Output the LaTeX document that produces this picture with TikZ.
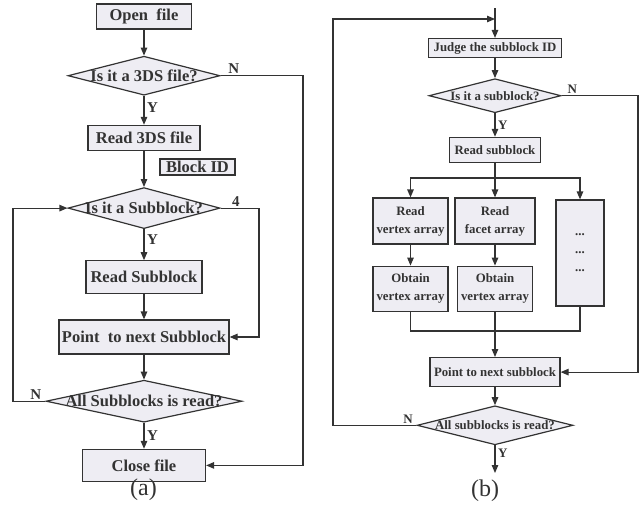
\documentclass[tikz,border=0pt]{standalone}
\usepackage{fontspec}
\setmainfont{Liberation Serif}
\usetikzlibrary{shapes.geometric,arrows.meta,positioning,calc}
\definecolor{boxfill}{HTML}{EEEDF3}
\definecolor{edge}{HTML}{333333}

\begin{document}
\begin{tikzpicture}[
    x=1pt, y=-1pt,
    color=edge, line width=1.2pt,
    box/.style={rectangle, draw, fill=boxfill, inner sep=0pt, align=center, font=\bfseries\fontsize{16.5}{18}\selectfont},
    smallbox/.style={box, font=\bfseries\fontsize{12.8}{18}\selectfont},
    decision/.style={diamond, draw, fill=boxfill, inner sep=0pt, font=\bfseries\fontsize{16.5}{18}\selectfont},
    smalldecision/.style={decision, font=\bfseries\fontsize{12.8}{18}\selectfont},
    tag/.style={font=\bfseries\fontsize{15}{16}\selectfont, inner sep=1.5pt},
    smalltag/.style={font=\bfseries\fontsize{13}{14}\selectfont, inner sep=1.5pt},
    caption/.style={font=\fontsize{24}{26}\selectfont},
    arrow/.style={->, >={Triangle[length=8pt,width=6.5pt]}}
]
\useasboundingbox (0,0) rectangle (640,506);

% (a) reading the 3DS file
\node[box, minimum width=95pt, minimum height=25pt] (open) at (144,16.5) {Open\ \ file};
\node[decision, minimum width=152pt, minimum height=39pt, below=26pt of open] (is3ds) {\makebox[0pt]{Is it a 3DS file?}};
\node[box, minimum width=112pt, minimum height=25pt, below=29pt of is3ds] (read3ds) {Read 3DS file};
\node[decision, minimum width=152pt, minimum height=41pt, below=36pt of read3ds] (issub) {\makebox[0pt]{Is it a Subblock?}};
\node[box, minimum width=116pt, minimum height=33pt, below=31pt of issub] (readsub) {Read Subblock};
\node[box, minimum width=170pt, minimum height=34pt, below=25pt of readsub] (pointsub) {Point\ \ to next Subblock};
\node[decision, minimum width=196pt, minimum height=42pt, below=25pt of pointsub] (allread) {\makebox[0pt]{All Subblocks is read?}};
\node[box, minimum width=123pt, minimum height=32pt, below=26pt of allread] (close) {Close file};
\node[box, minimum width=75pt, minimum height=16pt] (blockid) at (197.5,167) {Block ID};
\node[caption] (capa) at (143.5,490) {(a)};

\coordinate (rightA) at (303,0);
\coordinate (loopR) at (259,0);
\coordinate (loopL) at (13,0);

\draw[arrow] (open) -- (is3ds);
\draw[arrow] (is3ds) -- node[tag, pos=0.4, right=1pt] {Y} (read3ds);
\draw[arrow] (read3ds) -- (issub);
\draw[arrow] (issub) -- node[tag, pos=0.35, right=1pt] {Y} (readsub);
\draw[arrow] (readsub) -- (pointsub);
\draw[arrow] (pointsub) -- (allread);
\draw[arrow] (allread) -- node[tag, pos=0.5, right=1pt] {Y} (close);
\draw[arrow] (is3ds.east) -- node[tag, pos=0.16, above] {N} (is3ds.east -| rightA) |- (close.east);
\draw[arrow] (issub.east) -- node[tag, pos=0.4, above] {4} (issub.east -| loopR) |- (pointsub.east);
\draw[arrow] (allread.west) -- node[tag, pos=0.3, above] {N} (allread.west -| loopL) |- (issub.west);

% (b) reading one subblock
\coordinate (entry) at (495,8);
\coordinate (join) at (495,19);
\node[smallbox, minimum width=133pt, minimum height=19pt] (judge) at (495,48) {Judge the subblock ID};
\node[smalldecision, minimum width=132pt, minimum height=34pt, below=20pt of judge] (issubb) {\makebox[0pt]{Is it a subblock?}};
\node[smallbox, minimum width=91pt, minimum height=25pt, below=23.5pt of issubb] (readsubb) {Read subblock};
\coordinate (split) at (495,178);
\node[smallbox, minimum width=75pt, minimum height=46pt] (readvert) at (410.5,221) {Read\\vertex array};
\node[smallbox, minimum width=80pt, minimum height=46pt] (readfacet) at (495,221) {Read\\facet array};
\node[smallbox, minimum width=48pt, minimum height=106pt] (dots) at (580,253) {...\\...\\...};
\node[smallbox, minimum width=75pt, minimum height=45pt, below=21pt of readvert] (obtainv) {Obtain\\vertex array};
\node[smallbox, minimum width=75pt, minimum height=45pt, below=21pt of readfacet] (obtainf) {Obtain\\vertex array};
\coordinate (merge) at (495,331);
\node[smallbox, minimum width=130pt, minimum height=29pt, below=26pt of merge] (pointb) {Point to next subblock};
\node[smalldecision, minimum width=156pt, minimum height=39pt, below=18pt of pointb] (allsubb) {\makebox[0pt]{All subblocks is read?}};
\coordinate (exitb) at (495,473);
\node[caption] (capb) at (485,491) {(b)};

\coordinate (loopB) at (333,0);
\coordinate (rightB) at (638,0);

\draw[arrow] (entry) -- (judge);
\draw[arrow] (judge) -- (issubb);
\draw[arrow] (issubb) -- node[smalltag, pos=0.5, right=1pt] {Y} (readsubb);
\draw (readsubb) -- (split);
\draw[arrow] (split) -| (readvert);
\draw[arrow] (split) -- (readfacet);
\draw[arrow] (split) -| (dots);
\draw[arrow] (readvert) -- (obtainv);
\draw[arrow] (readfacet) -- (obtainf);
\draw (obtainv) |- (merge);
\draw (dots) |- (merge);
\draw (obtainf) -- (merge);
\draw[arrow] (merge) -- (pointb);
\draw[arrow] (pointb) -- (allsubb);
\draw[arrow] (allsubb) -- node[smalltag, pos=0.3, right=1pt] {Y} (exitb);
\draw[arrow] (issubb.east) -- node[smalltag, pos=0.14, above] {N} (issubb.east -| rightB) |- (pointb.east);
\draw[arrow] (allsubb.west) -- node[smalltag, pos=0.1, above] {N} (allsubb.west -| loopB) |- (join);

\end{tikzpicture}
\end{document}
